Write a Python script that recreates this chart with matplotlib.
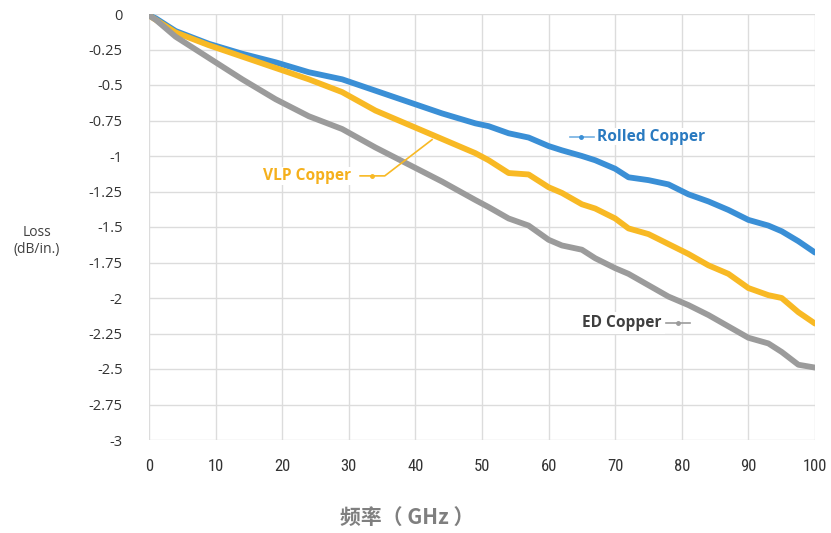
import matplotlib
matplotlib.use("Agg")
import matplotlib.pyplot as plt
from matplotlib import font_manager

# Frequency sample points (GHz)
freq = [0, 1, 4, 9, 14, 19, 24, 29, 34, 39, 44, 49, 51, 54, 57, 60, 62, 65, 67,
        70, 72, 75, 78, 81, 84, 87, 90, 93, 95, 97.5, 100]

# Insertion loss per inch (dB/in.)
rolled_copper = [-0.01, -0.03, -0.12, -0.21, -0.28, -0.34, -0.41, -0.46, -0.54, -0.62,
                 -0.70, -0.77, -0.79, -0.84, -0.87, -0.93, -0.96, -1.00, -1.03, -1.09,
                 -1.15, -1.17, -1.20, -1.27, -1.32, -1.38, -1.45, -1.49, -1.53, -1.60, -1.68]
vlp_copper = [-0.01, -0.04, -0.13, -0.22, -0.30, -0.38, -0.46, -0.55, -0.68, -0.78,
              -0.88, -0.98, -1.03, -1.12, -1.13, -1.22, -1.26, -1.34, -1.37, -1.44,
              -1.51, -1.55, -1.62, -1.69, -1.77, -1.83, -1.93, -1.98, -2.00, -2.10, -2.18]
ed_copper = [-0.01, -0.04, -0.16, -0.31, -0.46, -0.60, -0.72, -0.81, -0.94, -1.06,
             -1.18, -1.31, -1.36, -1.44, -1.49, -1.59, -1.63, -1.66, -1.72, -1.79,
             -1.83, -1.91, -1.99, -2.05, -2.12, -2.20, -2.28, -2.32, -2.38, -2.47, -2.49]

x_ticks = [0, 10, 20, 30, 40, 50, 60, 70, 80, 90, 100]
y_ticks = [0, -0.25, -0.5, -0.75, -1, -1.25, -1.5, -1.75, -2, -2.25, -2.5, -2.75, -3]
y_tick_labels = ["0", "-0.25", "-0.5", "-0.75", "-1", "-1.25", "-1.5", "-1.75",
                 "-2", "-2.25", "-2.5", "-2.75", "-3"]

BLUE = "#3a8fd6"
GOLD = "#f8b924"
GREY = "#9b9b9b"

def pick(*names):
    have = {f.name for f in font_manager.fontManager.ttflist}
    return [n for n in names if n in have] + ["DejaVu Sans"]

label_font = pick("Open Sans", "Noto Sans")
narrow_font = pick("Liberation Sans Narrow", "Roboto Condensed", "Liberation Sans")

fig = plt.figure(figsize=(8.31, 5.33), dpi=100)
ax = fig.add_axes([149 / 831, 1 - 440 / 533, 666 / 831, 426 / 533])

for vals, col in ((rolled_copper, BLUE), (vlp_copper, GOLD), (ed_copper, GREY)):
    ax.plot(freq, vals, color=col, lw=4.2, solid_capstyle="round",
            solid_joinstyle="round", zorder=3)

ax.set_xlim(0, 100)
ax.set_ylim(-3, 0)
ax.set_xticks(x_ticks)
ax.set_yticks(y_ticks)
ax.set_yticklabels(y_tick_labels)
ax.grid(True, color="#dcdcdc", lw=1.0)
ax.set_axisbelow(True)
for s in ax.spines.values():
    s.set_visible(False)
ax.tick_params(length=0)
ax.tick_params(axis="y", pad=19, labelsize=10.5, labelcolor="#333333")
ax.tick_params(axis="x", pad=14, labelsize=12, labelcolor="#333333")
for t in ax.get_yticklabels():
    t.set_family(label_font)
for t in ax.get_xticklabels():
    t.set_family(narrow_font)

# Series labels with short leader lines
ax.plot([63.2, 66.8], [-0.865, -0.865], color=BLUE, lw=1.2, alpha=0.7, zorder=4)
ax.plot([64.8], [-0.865], marker="o", ms=2.5, color=BLUE, zorder=4)
ax.text(67.2, -0.865, "Rolled Copper", color="#2a7ac0", fontsize=11.2, fontweight="bold",
        family=label_font, ha="left", va="center", zorder=5,
        bbox=dict(facecolor="white", edgecolor="none", pad=0.5))

ax.plot([31.7, 35.4, 42.5], [-1.14, -1.14, -0.885], color=GOLD, lw=1.2, zorder=4)
ax.plot([33.5], [-1.14], marker="o", ms=2.5, color=GOLD, zorder=4)
ax.text(30.4, -1.14, "VLP Copper", color="#f5b01c", fontsize=11.2, fontweight="bold",
        family=label_font, ha="right", va="center", zorder=5,
        bbox=dict(facecolor="white", edgecolor="none", pad=0.5))

ax.plot([77.6, 81.2], [-2.175, -2.175], color=GREY, lw=1.2, zorder=4)
ax.plot([79.5], [-2.175], marker="o", ms=2.5, color=GREY, zorder=4)
ax.text(77.0, -2.175, "ED Copper", color="#3f3f3f", fontsize=11.2, fontweight="bold",
        family=label_font, ha="right", va="center", zorder=5,
        bbox=dict(facecolor="white", edgecolor="none", pad=2))

fig.text(37 / 831, 1 - 241 / 533, "Loss\n(dB/in.)", ha="center", va="center",
         fontsize=10, color="#404040", family=label_font, linespacing=1.1)
fig.text(407 / 831, 1 - 517 / 533, "频率（ GHz ）", ha="center", va="center",
         fontsize=15, fontweight="bold", color="#7f7f7f",
         family=["Noto Sans CJK SC", "DejaVu Sans"])

fig.savefig("out.png", dpi=100)
